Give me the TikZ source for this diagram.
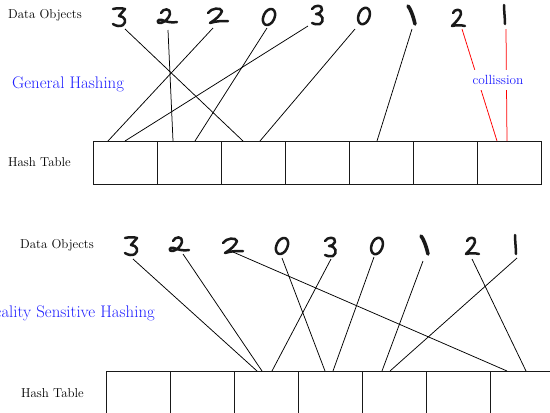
\documentclass[tikz,border=0pt]{standalone}
\usetikzlibrary{calc}
\definecolor{hashblue}{RGB}{30,30,255}
\tikzset{
  conn/.style={line width=0.75pt, black},
  hit/.style={line width=0.75pt, red},
  cell/.style={draw=black!90, line width=1pt, minimum width=64pt, minimum height=43pt,
    inner sep=0pt, outer sep=0pt, anchor=north west},
  lbl/.style={font=\fontsize{12.9}{15}\selectfont, inner sep=0pt, anchor=west},
  title/.style={text=hashblue, font=\fontsize{16.8}{19}\selectfont, inner sep=0pt},
  digitbox/.style={minimum width=18pt, minimum height=20pt, inner sep=0pt},
  ink/.style={line width=2.5pt, line cap=round, line join=round, black!90},
  % handwritten digit strokes, local frame centred on the glyph, y pointing down
  pics/dA/.style={code={\draw[ink] (-6,-8) .. controls (-2,-9) and (3,-9) .. (6,-8) -- (0,-1)
      .. controls (6,-1) and (8,5) .. (4,8) .. controls (1,10) and (-3,9) .. (-6,7);}},
  pics/dB/.style={code={\draw[ink] (-6,-4) .. controls (-4,-9) and (4,-9) .. (3,-3)
      .. controls (2,1) and (-2,5) .. (-6,6) .. controls (-11,7) and (-10,1) .. (-5,3)
      .. controls (0,5) and (5,6) .. (10,5);}},
  pics/dC/.style={code={\draw[ink] (-10,-3) .. controls (-7,-8) and (3,-9) .. (4,-5)
      .. controls (3,-1) and (-3,4) .. (-8,7) .. controls (-2,5) and (4,5) .. (10,5);}},
  pics/dD/.style={code={\draw[ink, rotate=-25] (0,0) ellipse [x radius=5.5, y radius=8.5];}},
  pics/dE/.style={code={\draw[ink] (-5,-6) .. controls (-3,-10) and (6,-11) .. (5,-5)
      .. controls (4,-2) and (1,-1) .. (-1,-1) .. controls (6,-1) and (8,6) .. (3,9)
      .. controls (0,10) and (-3,9) .. (-5,8);}},
  pics/dF/.style={code={\draw[ink, rotate=-20] (0,0) ellipse [x radius=5.5, y radius=8.5];}},
  pics/dG/.style={code={\draw[ink, line width=3.6pt] (-4,-9) .. controls (-2,-7) and (1,0) .. (3,9);}},
  pics/dH/.style={code={\draw[ink] (-5,-5) .. controls (-4,-9) and (4,-10) .. (3,-4)
      .. controls (2,0) and (-3,5) .. (-6,8) .. controls (-2,7) and (3,7) .. (7,8);}},
  pics/dI/.style={code={\draw[ink] (0,-10) .. controls (0,-4) and (1,3) .. (1,9);}}
}
\begin{document}
\begin{tikzpicture}[x=1pt, y=-1pt]
  \useasboundingbox (0,0) rectangle (550,413);
  \clip (0,0) rectangle (550,413);

  % ---------------- General hashing ----------------
  \node[lbl] (gdata) at (8,15) {Data Objects};
  \node[title, anchor=west] (gtitle) at (12,84) {General Hashing};
  \node[lbl] (gtab) at (8,162) {Hash Table};

  \foreach \i in {1,...,7}
    \node[cell] (g\i) at ({93+64*(\i-1)},141) {};

  \foreach \n/\x/\y/\s in {1/119/17/dA, 2/167/17/dB, 3/218/16/dC, 4/269/17/dD, 5/317/15/dE,
                           6/364/16/dF, 7/412/15/dG, 8/458/18/dH, 9/504/15/dI} {
    \node[digitbox] (ga\n) at (\x,\y) {};
    \pic at (ga\n.center) {\s};
  }

  \draw[conn] ([shift={(6,12)}]ga1.center)  -- ([xshift=22pt]g3.north west);
  \draw[conn] ([shift={(1,13)}]ga2.center)  -- ([xshift=16pt]g2.north west);
  \draw[conn] ([shift={(-5,12)}]ga3.center) -- ([xshift=15pt]g1.north west);
  \draw[conn] ([shift={(-2,11)}]ga4.center) -- ([xshift=38pt]g2.north west);
  \draw[conn] ([shift={(-9,11)}]ga5.center) -- ([xshift=32pt]g1.north west);
  \draw[conn] ([shift={(-9,13)}]ga6.center) -- ([xshift=39pt]g3.north west);
  \draw[conn] ([shift={(0,14)}]ga7.center)  -- ([xshift=28pt]g5.north west);
  \draw[hit]  ([shift={(4,11)}]ga8.center)  -- ([xshift=20pt]g7.north west);
  \draw[hit]  ([shift={(2,14)}]ga9.center)  -- ([xshift=30pt]g7.north west);

  \node[text=hashblue, font=\fontsize{13.3}{15}\selectfont, fill=white,
        inner xsep=1pt, inner ysep=5pt] (coll) at (498,80) {collission};

  % ---------------- Locality sensitive hashing ----------------
  \node[lbl] (ldata) at (20,245) {Data Objects};
  \node[title, anchor=east] (ltitle) at (155,313) {Locality Sensitive Hashing};
  \node[lbl] (ltab) at (21,393) {Hash Table};

  \foreach \i in {1,...,7}
    \node[cell, minimum height=42pt] (l\i) at ({106+64*(\i-1)},371) {};

  \foreach \n/\x/\y/\s in {1/131/246/dA, 2/179/245/dB, 3/233/246/dC, 4/282/246/dD, 5/330/247/dE,
                           6/377/246/dF, 7/425/245/dG, 8/472/246/dH, 9/515/245/dI} {
    \node[digitbox] (la\n) at (\x,\y) {};
    \pic at (la\n.center) {\s};
  }

  \draw[conn] ([shift={(2,13)}]la1.center)  -- ([xshift=23pt]l3.north west);
  \draw[conn] ([shift={(4,9)}]la2.center)   -- ([xshift=28pt]l3.north west);
  \draw[conn] ([shift={(0,6)}]la3.center)   -- ([xshift=17pt]l7.north west);
  \draw[conn] ([shift={(0,12)}]la4.center)  -- ([xshift=27pt]l4.north west);
  \draw[conn] ([shift={(1,12)}]la5.center)  -- ([xshift=38pt]l3.north west);
  \draw[conn] ([shift={(-3,11)}]la6.center) -- ([xshift=35pt]l4.north west);
  \draw[conn] ([shift={(-2,16)}]la7.center) -- ([xshift=20pt]l5.north west);
  \draw[conn] ([shift={(0,13)}]la8.center)  -- ([xshift=36pt]l7.north west);
  \draw[conn] ([shift={(2,13)}]la9.center)  -- ([xshift=28pt]l5.north west);
\end{tikzpicture}
\end{document}
